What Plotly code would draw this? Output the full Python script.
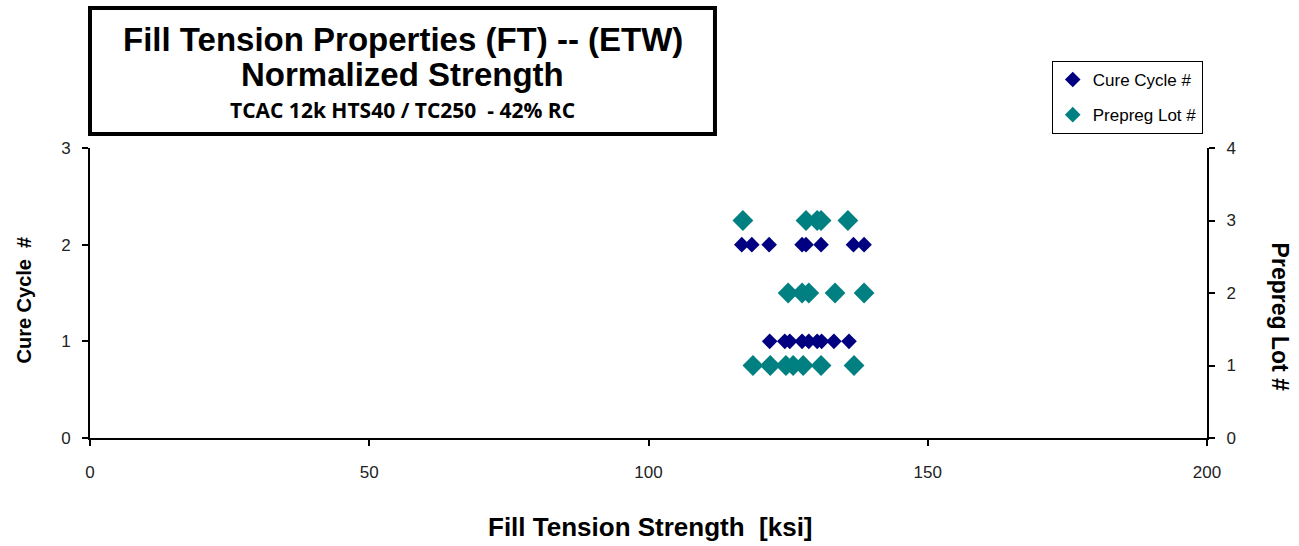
import plotly.graph_objects as go

# Data
cure_cycle_strength = [116.7, 118.5, 121.6, 127.5, 128.2, 130.9, 136.7, 138.6,
                       121.7, 124.4, 125.3, 127.5, 128.7, 130.2, 131.0, 133.2, 135.9]
cure_cycle_no = [2, 2, 2, 2, 2, 2, 2, 2,
                 1, 1, 1, 1, 1, 1, 1, 1, 1]
lot_strength = [116.9, 128.2, 130.2, 130.9, 135.7,
                125.0, 127.5, 128.7, 133.4, 138.6,
                118.7, 121.8, 124.6, 125.9, 127.7, 130.9, 136.8]
lot_no = [3, 3, 3, 3, 3,
          2, 2, 2, 2, 2,
          1, 1, 1, 1, 1, 1, 1]

x_ticks = [0, 50, 100, 150, 200]
y_ticks = [0, 1, 2, 3]
y2_ticks = [0, 1, 2, 3, 4]

FONT = "Liberation Sans, Arial, sans-serif"

fig = go.Figure()
fig.add_trace(go.Scatter(
    x=cure_cycle_strength, y=cure_cycle_no, mode="markers", name="Cure Cycle #",
    legendgroup="a",
    marker=dict(symbol="diamond", size=12, color="#000080", line=dict(width=0)),
    yaxis="y"))
fig.add_trace(go.Scatter(
    x=lot_strength, y=lot_no, mode="markers", name="Prepreg Lot #",
    legendgroup="b",
    marker=dict(symbol="diamond", size=16, color="#008080", line=dict(width=0)),
    yaxis="y2"))

axis_common = dict(showgrid=False, zeroline=False, showline=True, linecolor="black",
                   linewidth=2, ticks="outside", ticklen=6, tickwidth=1.5,
                   tickcolor="black", automargin=False,
                   tickfont=dict(family=FONT, size=17, color="#222"))

fig.update_layout(
    width=1299, height=546,
    margin=dict(l=90, r=92, t=148, b=108),
    paper_bgcolor="white", plot_bgcolor="white",
    font=dict(family=FONT, color="black"),
    xaxis=dict(range=[0, 200], tickvals=x_ticks, **axis_common, ticklabelstandoff=12),
    yaxis=dict(range=[0, 3], tickvals=y_ticks, **axis_common, ticklabelstandoff=8),
    yaxis2=dict(range=[0, 4], tickvals=y2_ticks, overlaying="y", side="right",
                **axis_common, ticklabelstandoff=8),
    showlegend=True,
    legend=dict(x=0.861, xanchor="left", y=1.3, yanchor="top",
                bordercolor="black", borderwidth=1, bgcolor="white",
                font=dict(family=FONT, size=17, color="black"),
                itemwidth=30, itemsizing="constant", traceorder="grouped",
                tracegroupgap=10),
)

# Title box
fig.add_shape(type="rect", xref="paper", yref="paper",
              x0=0.0, x1=0.5595, y0=1.048, y1=1.483,
              line=dict(color="black", width=4), fillcolor="white", layer="above")
fig.add_annotation(xref="paper", yref="paper", x=0.2798, y=1.374, showarrow=False,
                   xanchor="center", yanchor="middle",
                   text="<b>Fill Tension Properties (FT) -- (ETW)</b>",
                   font=dict(family=FONT, size=33, color="black"))
fig.add_annotation(xref="paper", yref="paper", x=0.2798, y=1.252, showarrow=False,
                   xanchor="center", yanchor="middle",
                   text="<b>Normalized Strength</b>",
                   font=dict(family=FONT, size=33, color="black"))
fig.add_annotation(xref="paper", yref="paper", x=0.2798, y=1.13, showarrow=False,
                   xanchor="center", yanchor="middle",
                   text="<b>TCAC 12k HTS40 / TC250  - 42% RC</b>",
                   font=dict(family="Open Sans, Liberation Sans", size=21, color="black"))
# X axis title
fig.add_annotation(xref="paper", yref="paper", x=0.502, y=-0.307, showarrow=False,
                   xanchor="center", yanchor="middle",
                   text="<b>Fill Tension Strength  [ksi]</b>",
                   font=dict(family=FONT, size=26, color="black"))
# Left axis title
fig.add_annotation(xref="paper", yref="paper", x=-0.0595, y=0.476, showarrow=False,
                   xanchor="center", yanchor="middle",
                   text="<b>Cure Cycle  #</b>", textangle=-90,
                   font=dict(family=FONT, size=20, color="black"))
# Right axis title (reads top to bottom)
fig.add_annotation(xref="paper", yref="paper", x=1.065, y=0.42, showarrow=False,
                   xanchor="center", yanchor="middle",
                   text="<b>Prepreg Lot #</b>", textangle=90,
                   font=dict(family=FONT, size=23, color="black"))

fig.write_html("out.html", post_script="document.body.style.margin='0';",
               config={"displayModeBar": False})
